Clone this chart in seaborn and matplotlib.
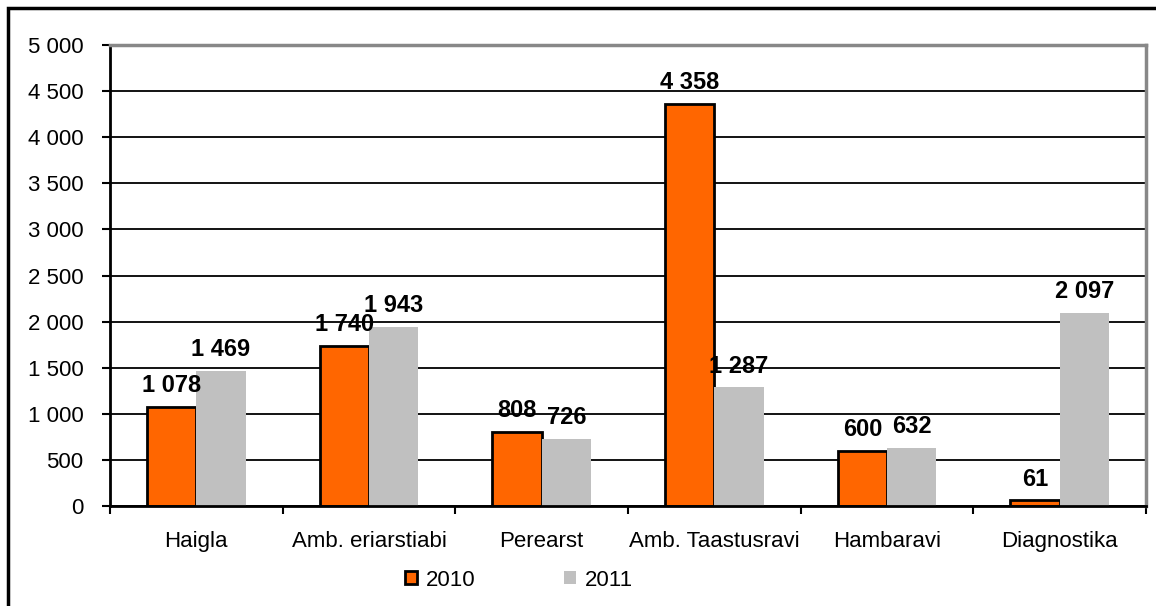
import pandas as pd
import matplotlib
matplotlib.use("Agg")
import matplotlib.pyplot as plt
import seaborn as sns
from matplotlib.patches import Patch, Rectangle

# Data
categories = ['Haigla', 'Amb. eriarstiabi', 'Perearst', 'Amb. Taastusravi', 'Hambaravi', 'Diagnostika']
values_2010 = [1078, 1740, 808, 4358, 600, 61]
values_2011 = [1469, 1943, 726, 1287, 632, 2097]
years = ['2010', '2011']
y_ticks = list(range(0, 5001, 500))

ORANGE = '#FF6600'
GRAY = '#C0C0C0'


def fmt(v):
    """Thousands separated by a space, Estonian style."""
    return f"{v:,}".replace(",", " ")


def main():
    sns.set_style("white")
    plt.rcParams['font.family'] = ['Liberation Sans', 'DejaVu Sans']
    plt.rcParams['text.color'] = 'black'
    plt.rcParams['xtick.color'] = 'black'
    plt.rcParams['ytick.color'] = 'black'

    df = pd.DataFrame({
        'kategooria': categories * 2,
        'aasta': [years[0]] * len(categories) + [years[1]] * len(categories),
        'vaartus': values_2010 + values_2011,
    })

    fig = plt.figure(figsize=(11.56, 6.06), dpi=100)
    ax = fig.add_axes([110 / 1156, 100 / 606, 1036 / 1156, 461 / 606])

    sns.barplot(data=df, x='kategooria', y='vaartus', hue='aasta',
                palette={years[0]: ORANGE, years[1]: GRAY},
                width=0.57, gap=0, saturation=1, legend=False, ax=ax)

    # black outline only on the 2010 bars
    for i, bar in enumerate(ax.patches):
        if i < len(categories):
            bar.set_edgecolor('black')
            bar.set_linewidth(2)
        else:
            bar.set_linewidth(0)

    # value labels
    for bar, v in zip(ax.patches, values_2010 + values_2011):
        ax.annotate(fmt(v), (bar.get_x() + bar.get_width() / 2, bar.get_height()),
                    xytext=(0, 7), textcoords='offset points', color='black',
                    ha='center', va='bottom', fontsize=17, fontweight='bold')

    ax.set_xlim(-0.5, len(categories) - 0.5)
    ax.set_ylim(0, 5000)
    ax.set_yticks(y_ticks)
    ax.set_yticklabels([fmt(t) for t in y_ticks], fontsize=16)
    ax.tick_params(axis='y', direction='out', length=6, width=1.5, color='black',
                   labelcolor='black', pad=13, left=True)

    # ticks at category boundaries, labels at centers
    ax.set_xticks([i - 0.5 for i in range(len(categories) + 1)])
    ax.set_xticklabels([])
    ax.set_xticks(range(len(categories)), minor=True)
    ax.set_xticklabels(categories, minor=True, fontsize=16)
    ax.tick_params(axis='x', which='major', direction='out', length=6, width=1.5,
                   color='black', bottom=True)
    ax.tick_params(axis='x', which='minor', length=0, pad=18, labelcolor='black')

    ax.set_xlabel('')
    ax.set_ylabel('')

    ax.set_axisbelow(True)
    ax.yaxis.grid(True, color='black', linewidth=1.3)
    ax.xaxis.grid(False)

    for side in ['left', 'bottom']:
        ax.spines[side].set_color('black')
        ax.spines[side].set_linewidth(2)
    for side in ['top', 'right']:
        ax.spines[side].set_color('#888888')
        ax.spines[side].set_linewidth(2.5)

    handles = [Patch(facecolor=ORANGE, edgecolor='black', linewidth=2, label=years[0]),
               Patch(facecolor=GRAY, edgecolor='none', label=years[1])]
    fig.legend(handles=handles, loc='center', bbox_to_anchor=(519 / 1156, 1 - 580 / 606),
               ncol=2, frameon=False, fontsize=16, handlelength=0.55, handleheight=0.55,
               handletextpad=0.4, columnspacing=4.0, labelcolor='black')

    # outer chart frame
    fig.patches.append(Rectangle((8 / 1156, -0.1), 1.2, 1 - 8 / 606 + 0.1,
                                 transform=fig.transFigure, fill=False,
                                 edgecolor='black', linewidth=2.5))

    fig.savefig('out.png', dpi=100)
    plt.close(fig)


if __name__ == "__main__":
    main()
